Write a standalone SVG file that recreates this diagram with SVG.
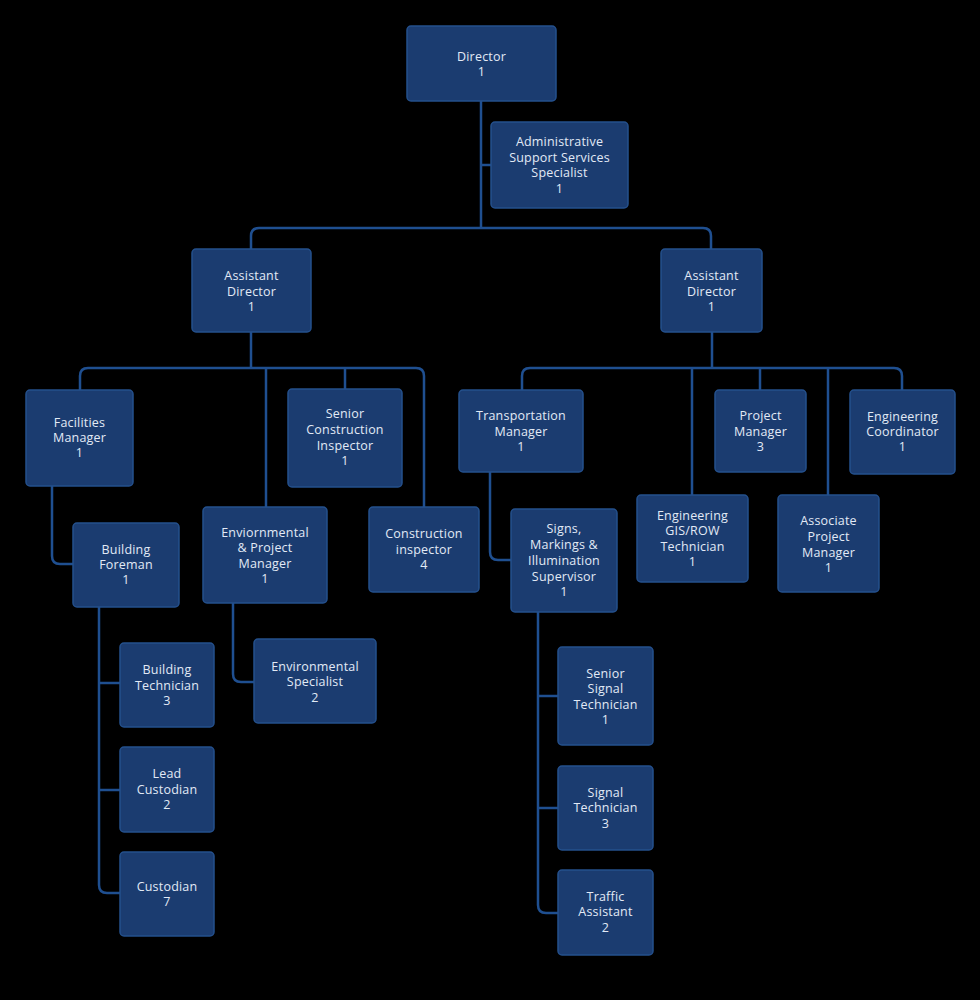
<svg xmlns="http://www.w3.org/2000/svg" width="980" height="1000" viewBox="0 0 980 1000">
<style>
.box{fill:#1b3c70;stroke:#24508c;stroke-width:1.5}
.t{font-family:"Open Sans","Noto Sans","Liberation Sans",sans-serif;font-size:12.5px;letter-spacing:0.2px;fill:#e2eaf6;text-anchor:middle}
.c{fill:none;stroke:#1f4f90;stroke-width:2.5}
</style>
<rect width="980" height="1000" fill="#000"/>
<g id="connectors" class="c">
<path d="M481,101 V228"/>
<path d="M481,165 H491"/>
<path d="M251,249 V236 Q251,228 259,228 H703 Q711,228 711,236 V249"/>
<path d="M251,332 V368"/>
<path d="M80,390 V376 Q80,368 88,368 H416 Q424,368 424,376 V507"/>
<path d="M266,368 V507"/>
<path d="M345,368 V389"/>
<path d="M712,332 V368"/>
<path d="M522,390 V376 Q522,368 530,368 H894 Q902,368 902,376 V390"/>
<path d="M692,368 V495"/>
<path d="M760,368 V390"/>
<path d="M828,368 V495"/>
<path d="M52,486 V556 Q52,564 60,564 H73"/>
<path d="M233,603 V674 Q233,682 241,682 H254"/>
<path d="M490,472 V552 Q490,560 498,560 H511"/>
<path d="M99,607 V885 Q99,893 107,893 H120"/>
<path d="M99,683 H120"/>
<path d="M99,790 H120"/>
<path d="M538,612 V905 Q538,913 546,913 H558"/>
<path d="M538,696 H558"/>
<path d="M538,808 H558"/>
</g>
<g id="director"><rect class="box" x="407" y="26" width="149" height="75" rx="4"/><text class="t" x="481.5" y="61">Director</text><text class="t" x="481.5" y="76">1</text></g>
<g id="admin"><rect class="box" x="491" y="122" width="137" height="86" rx="4"/><text class="t" x="559.5" y="146">Administrative</text><text class="t" x="559.5" y="162">Support Services</text><text class="t" x="559.5" y="177">Specialist</text><text class="t" x="559.5" y="193">1</text></g>
<g id="ad-left"><rect class="box" x="192" y="249" width="119" height="83" rx="4"/><text class="t" x="251.5" y="280">Assistant</text><text class="t" x="251.5" y="296">Director</text><text class="t" x="251.5" y="311">1</text></g>
<g id="ad-right"><rect class="box" x="661" y="249" width="101" height="83" rx="4"/><text class="t" x="711.5" y="280">Assistant</text><text class="t" x="711.5" y="296">Director</text><text class="t" x="711.5" y="311">1</text></g>
<g id="facilities"><rect class="box" x="26" y="390" width="107" height="96" rx="4"/><text class="t" x="79.5" y="427">Facilities</text><text class="t" x="79.5" y="442">Manager</text><text class="t" x="79.5" y="457">1</text></g>
<g id="senior-construction"><rect class="box" x="288" y="389" width="114" height="98" rx="4"/><text class="t" x="345" y="418">Senior</text><text class="t" x="345" y="434">Construction</text><text class="t" x="345" y="450">Inspector</text><text class="t" x="345" y="465">1</text></g>
<g id="transportation"><rect class="box" x="459" y="390" width="124" height="82" rx="4"/><text class="t" x="521" y="420">Transportation</text><text class="t" x="521" y="436">Manager</text><text class="t" x="521" y="451">1</text></g>
<g id="project-manager"><rect class="box" x="715" y="390" width="91" height="82" rx="4"/><text class="t" x="760.5" y="420">Project</text><text class="t" x="760.5" y="436">Manager</text><text class="t" x="760.5" y="451">3</text></g>
<g id="eng-coordinator"><rect class="box" x="850" y="390" width="105" height="84" rx="4"/><text class="t" x="902.5" y="421">Engineering</text><text class="t" x="902.5" y="436">Coordinator</text><text class="t" x="902.5" y="451">1</text></g>
<g id="building-foreman"><rect class="box" x="73" y="523" width="106" height="84" rx="4"/><text class="t" x="126" y="554">Building</text><text class="t" x="126" y="569">Foreman</text><text class="t" x="126" y="584">1</text></g>
<g id="env-project-manager"><rect class="box" x="203" y="507" width="124" height="96" rx="4"/><text class="t" x="265" y="537">Enviornmental</text><text class="t" x="265" y="552">&amp; Project</text><text class="t" x="265" y="568">Manager</text><text class="t" x="265" y="583">1</text></g>
<g id="construction-inspector"><rect class="box" x="369" y="507" width="110" height="85" rx="4"/><text class="t" x="424" y="538">Construction</text><text class="t" x="424" y="554">inspector</text><text class="t" x="424" y="569">4</text></g>
<g id="signs"><rect class="box" x="511" y="509" width="106" height="103" rx="4"/><text class="t" x="564" y="533">Signs,</text><text class="t" x="564" y="549">Markings &amp;</text><text class="t" x="564" y="565">Illumination</text><text class="t" x="564" y="581">Supervisor</text><text class="t" x="564" y="596">1</text></g>
<g id="eng-gis"><rect class="box" x="637" y="495" width="111" height="87" rx="4"/><text class="t" x="692.5" y="520">Engineering</text><text class="t" x="692.5" y="535">GIS/ROW</text><text class="t" x="692.5" y="551">Technician</text><text class="t" x="692.5" y="566">1</text></g>
<g id="associate-pm"><rect class="box" x="778" y="495" width="101" height="97" rx="4"/><text class="t" x="828.5" y="525">Associate</text><text class="t" x="828.5" y="541">Project</text><text class="t" x="828.5" y="557">Manager</text><text class="t" x="828.5" y="572">1</text></g>
<g id="env-specialist"><rect class="box" x="254" y="639" width="122" height="84" rx="4"/><text class="t" x="315" y="671">Environmental</text><text class="t" x="315" y="686">Specialist</text><text class="t" x="315" y="702">2</text></g>
<g id="building-technician"><rect class="box" x="120" y="643" width="94" height="84" rx="4"/><text class="t" x="167" y="674">Building</text><text class="t" x="167" y="690">Technician</text><text class="t" x="167" y="705">3</text></g>
<g id="lead-custodian"><rect class="box" x="120" y="747" width="94" height="85" rx="4"/><text class="t" x="167" y="778">Lead</text><text class="t" x="167" y="794">Custodian</text><text class="t" x="167" y="809">2</text></g>
<g id="custodian"><rect class="box" x="120" y="852" width="94" height="84" rx="4"/><text class="t" x="167" y="891">Custodian</text><text class="t" x="167" y="906">7</text></g>
<g id="senior-signal"><rect class="box" x="558" y="647" width="95" height="98" rx="4"/><text class="t" x="605.5" y="678">Senior</text><text class="t" x="605.5" y="693">Signal</text><text class="t" x="605.5" y="709">Technician</text><text class="t" x="605.5" y="724">1</text></g>
<g id="signal-technician"><rect class="box" x="558" y="766" width="95" height="84" rx="4"/><text class="t" x="605.5" y="797">Signal</text><text class="t" x="605.5" y="812">Technician</text><text class="t" x="605.5" y="828">3</text></g>
<g id="traffic-assistant"><rect class="box" x="558" y="870" width="95" height="85" rx="4"/><text class="t" x="605.5" y="901">Traffic</text><text class="t" x="605.5" y="916">Assistant</text><text class="t" x="605.5" y="932">2</text></g>
</svg>
